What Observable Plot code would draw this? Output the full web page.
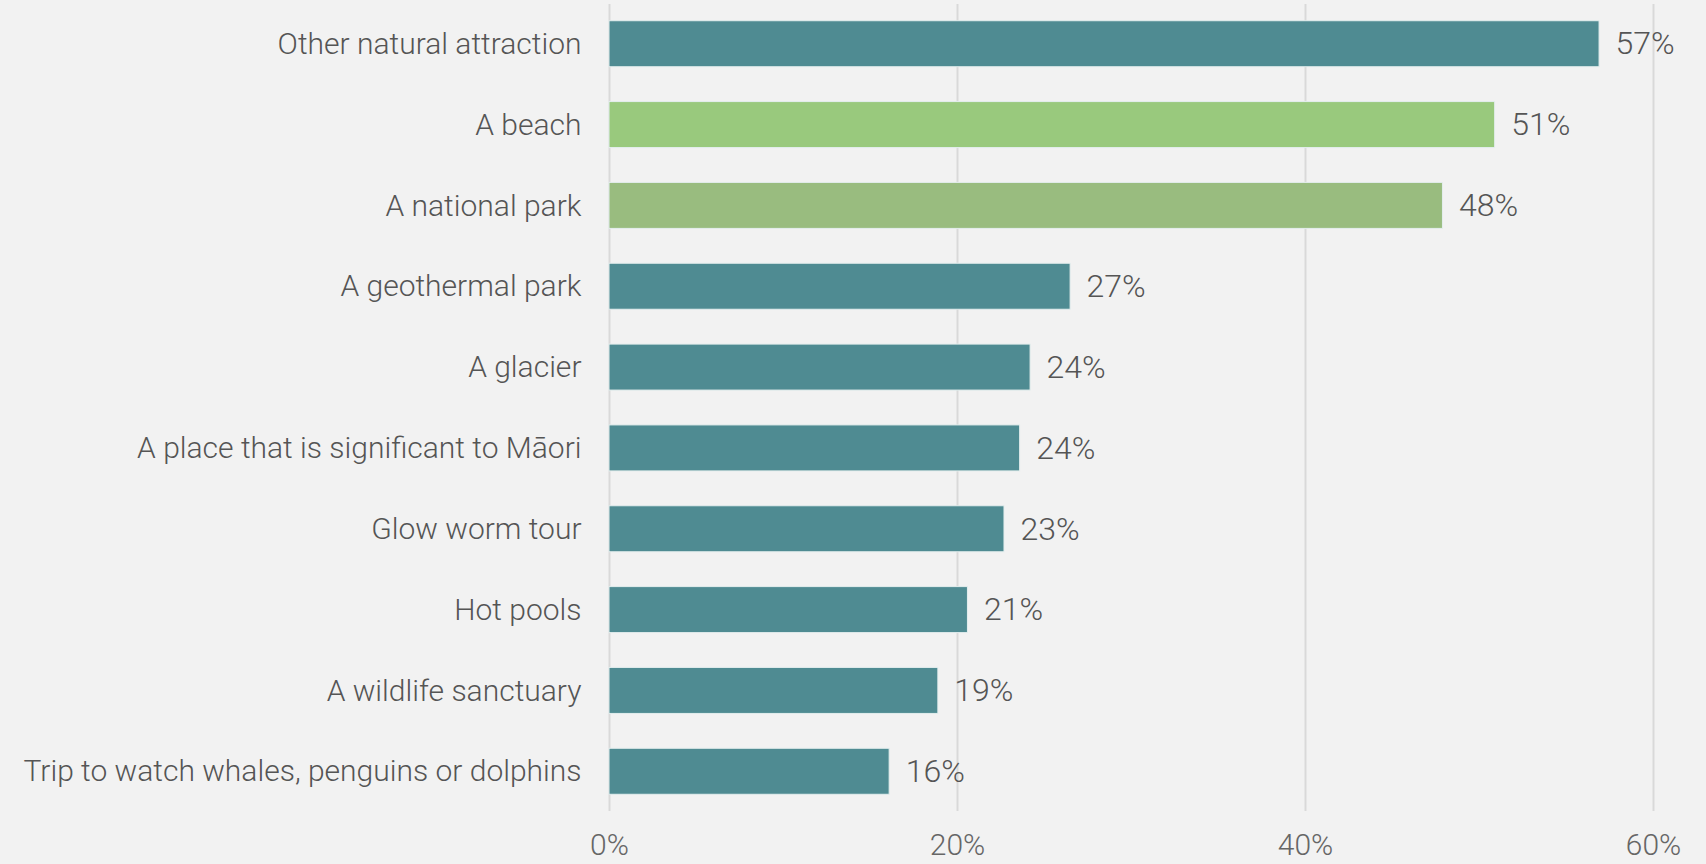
<!DOCTYPE html>
<html>
<head>
<meta charset="utf-8">
<script src="https://cdn.jsdelivr.net/npm/d3@7"></script>
<script src="https://cdn.jsdelivr.net/npm/@observablehq/plot@0.6"></script>
<style>
  html, body { margin: 0; padding: 0; background: #f2f2f2; }
  #chart svg { display: block; }
</style>
</head>
<body>
<div id="chart"></div>
<script>
const categories = [
  "Other natural attraction",
  "A beach",
  "A national park",
  "A geothermal park",
  "A glacier",
  "A place that is significant to Māori",
  "Glow worm tour",
  "Hot pools",
  "A wildlife sanctuary",
  "Trip to watch whales, penguins or dolphins"
];
const values = [56.9, 50.9, 47.9, 26.5, 24.2, 23.6, 22.7, 20.6, 18.9, 16.1];
const xTicks = [0, 20, 40, 60];

const teal = "#4f8b92";
const barColors = {"A beach": "#99c97d", "A national park": "#99bc7f"};

const data = categories.map((c, i) => ({category: c, value: values[i]}));

const font = "Roboto, 'Helvetica Neue', Arial, sans-serif";

const chart = Plot.plot({
  width: 1706,
  height: 864,
  marginTop: 4,
  marginBottom: 53,
  marginLeft: 609,
  marginRight: 53,
  style: {background: "#f2f2f2", fontFamily: font, fontWeight: 300, color: "#595959"},
  x: {domain: [0, 60]},
  y: {domain: categories, paddingInner: 0.431, paddingOuter: 0.207, round: false},
  marks: [
    Plot.ruleX(xTicks, {stroke: "#d9d9d9", strokeWidth: 2}),
    Plot.barX(data, {
      y: "category",
      x: "value",
      fill: d => barColors[d.category] || teal,
      stroke: "#e4eeee",
      strokeWidth: 1
    }),
    Plot.text(data, {
      y: "category",
      x: "value",
      text: d => Math.round(d.value) + "%",
      textAnchor: "start",
      dx: 16,
      fontSize: 32,
      fill: "#555555"
    }),
    Plot.axisY({
      tickSize: 0,
      tickPadding: 28,
      fontSize: 30,
      fill: "#555555",
      label: null
    }),
    Plot.axisX({
      ticks: xTicks,
      tickSize: 0,
      tickPadding: 22,
      fontSize: 30,
      fill: "#666666",
      tickFormat: d => d + "%",
      label: null
    })
  ]
});

document.getElementById("chart").appendChild(chart);
</script>
</body>
</html>
